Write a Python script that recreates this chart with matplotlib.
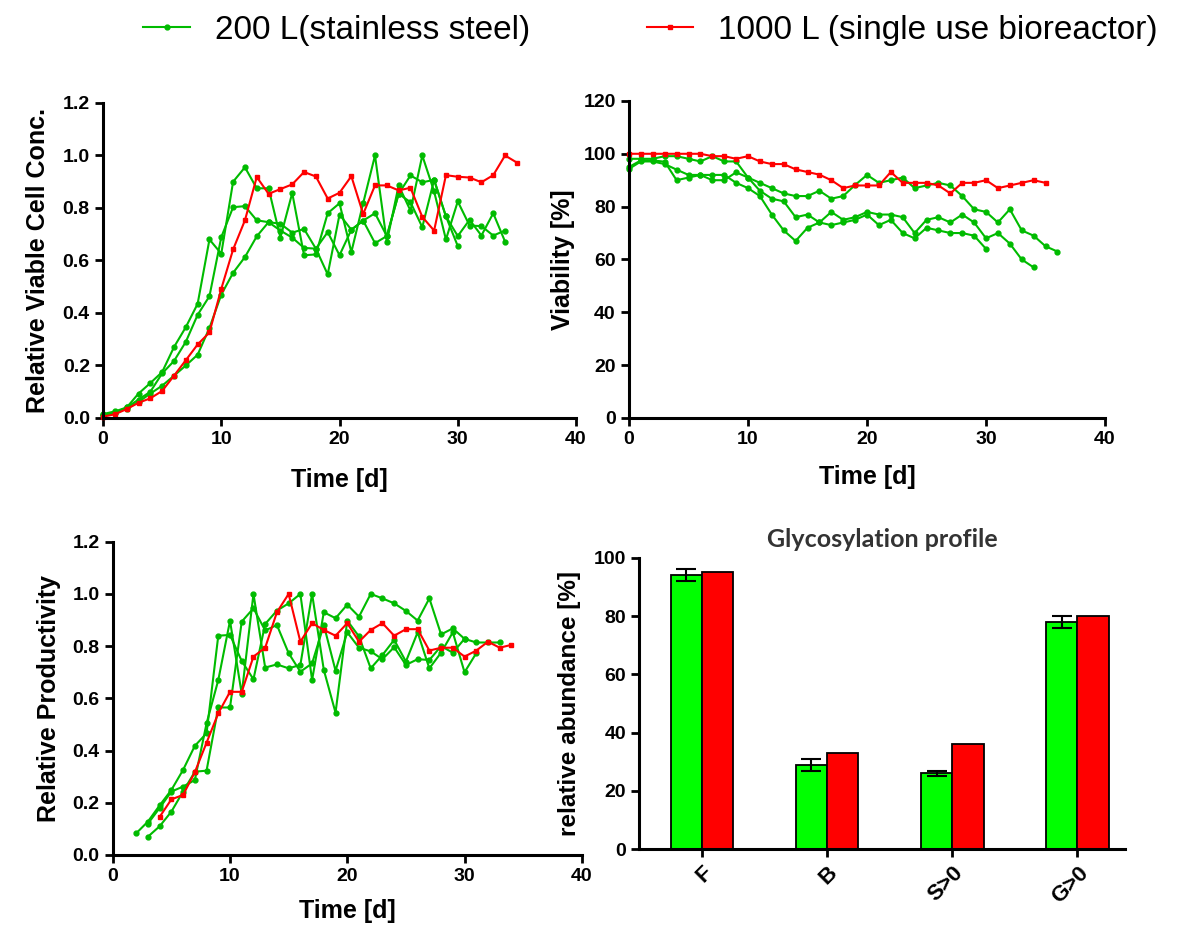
import matplotlib
matplotlib.use("Agg")
import matplotlib.pyplot as plt
import numpy as np

# relative viable cell concentration, day 0 onward
vcc_200_a = [0.01, 0.02, 0.04, 0.093, 0.133, 0.175, 0.27, 0.346, 0.435, 0.68, 0.626, 0.9, 0.955,
             0.875, 0.875, 0.687, 0.857, 0.62, 0.623, 0.78, 0.818, 0.632, 0.818, 1.0, 0.67, 0.886,
             0.79, 1.0, 0.863, 0.68, 0.825, 0.733, 0.731, 0.695, 0.714]
vcc_200_b = [0.015, 0.025, 0.04, 0.07, 0.1, 0.17, 0.217, 0.29, 0.393, 0.464, 0.689, 0.803, 0.807,
             0.753, 0.746, 0.74, 0.706, 0.72, 0.645, 0.708, 0.62, 0.717, 0.752, 0.78, 0.693, 0.854,
             0.924, 0.898, 0.907, 0.768, 0.655]
vcc_200_c = [0.01, 0.02, 0.035, 0.061, 0.093, 0.123, 0.161, 0.2, 0.241, 0.343, 0.47, 0.553, 0.613,
             0.692, 0.746, 0.714, 0.687, 0.648, 0.645, 0.547, 0.775, 0.717, 0.752, 0.666, 0.693,
             0.854, 0.822, 0.727, 0.907, 0.768, 0.693, 0.755, 0.695, 0.78, 0.672]
vcc_1000 = [0.005, 0.014, 0.034, 0.058, 0.075, 0.103, 0.161, 0.22, 0.28, 0.326, 0.492, 0.642,
            0.753, 0.918, 0.854, 0.872, 0.89, 0.937, 0.92, 0.836, 0.858, 0.921, 0.777, 0.886,
            0.886, 0.867, 0.877, 0.766, 0.714, 0.925, 0.919, 0.916, 0.898, 0.925, 1.0, 0.973]

# viability [%], day 0 onward
via_200_a = [98.1, 98.1, 98.1, 99.1, 99.1, 98.1, 97.1, 99.1, 97.1, 97.1, 91, 89, 87, 85, 84, 84,
             86, 83, 84, 88.2, 92, 89, 90, 91, 87, 88, 89, 88, 84, 79, 78, 74, 79, 71, 69, 65, 63]
via_200_b = [94.3, 97.1, 97.1, 96.1, 94, 92, 92, 92, 92, 89, 87, 84, 77, 71, 67, 72, 74, 78, 75,
             76, 78, 77, 77, 76, 70, 75, 76, 74, 77, 74, 68, 70, 66, 60, 57]
via_200_c = [95, 97.5, 97.5, 97, 90, 91, 92, 90, 90, 93, 91, 86, 83, 82, 76, 77, 74, 73, 74, 75,
             77, 73, 75, 70, 68, 72, 71, 70, 70, 69, 64]
via_1000 = [100, 100, 100, 100, 100, 100, 100, 99.1, 99.1, 98.1, 99.1, 97.1, 96.1, 96.1, 94.1,
            93.1, 92.1, 90, 87, 88, 88, 88, 93.1, 89, 89, 89, 88, 85, 89, 89, 90, 87, 88, 89, 90, 89]

# relative productivity
prod_200_a_start = 2
prod_200_a = [0.083, 0.128, 0.19, 0.249, 0.326, 0.418, 0.466, 0.84, 0.843, 0.743, 0.673, 0.885,
              0.936, 0.964, 1.0, 0.67, 0.93, 0.907, 0.959, 0.913, 1.0, 0.983, 0.964, 0.935, 0.898,
              0.983, 0.845, 0.868, 0.828, 0.814, 0.814, 0.814]
prod_200_b_start = 3
prod_200_b = [0.12, 0.18, 0.243, 0.262, 0.287, 0.504, 0.67, 0.897, 0.617, 1.0, 0.718, 0.73,
              0.715, 0.728, 1.0, 0.709, 0.545, 0.898, 0.837, 0.715, 0.766, 0.824, 0.741, 0.853,
              0.715, 0.775, 0.853, 0.7, 0.773]
prod_200_c_start = 3
prod_200_c = [0.07, 0.11, 0.166, 0.243, 0.319, 0.323, 0.565, 0.565, 0.894, 0.945, 0.86, 0.881,
              0.773, 0.702, 0.734, 0.881, 0.706, 0.853, 0.794, 0.78, 0.75, 0.796, 0.728, 0.75,
              0.747, 0.8, 0.775, 0.828]
prod_1000_start = 4
prod_1000 = [0.146, 0.213, 0.23, 0.317, 0.43, 0.543, 0.625, 0.625, 0.76, 0.794, 0.93, 1.0, 0.817,
             0.888, 0.862, 0.84, 0.888, 0.817, 0.862, 0.888, 0.84, 0.865, 0.865, 0.783, 0.794,
             0.794, 0.76, 0.783, 0.817, 0.794, 0.805]

# glycosylation profile
glyco_labels = ["F", "B", "S>0", "G>0"]
glyco_200 = [94, 29, 26, 78]
glyco_200_err = [2, 2, 1, 2]
glyco_1000 = [95, 33, 36, 80]

GREEN = "#00BB00"
RED = "#FF0000"
FONT = "Liberation Sans"
plt.rcParams["font.family"] = [FONT, "DejaVu Sans"]


def style_axes(ax):
    for side in ("top", "right"):
        ax.spines[side].set_visible(False)
    for side in ("left", "bottom"):
        ax.spines[side].set_linewidth(2.2)
    ax.tick_params(width=2, length=6, labelsize=14, direction="out")
    for lab in ax.get_xticklabels() + ax.get_yticklabels():
        lab.set_fontweight("bold")


def plot_series(ax, values, start, color, marker):
    days = np.arange(len(values)) + start
    line, = ax.plot(days, values, color=color, marker=marker, markersize=3.5, linewidth=1.5,
                    clip_on=False)
    return line


fig = plt.figure(figsize=(11.83, 9.27), dpi=100)

ax1 = fig.add_axes([0.0871, 0.5491, 0.3998, 0.3398])
g_line = None
for vals in (vcc_200_a, vcc_200_b, vcc_200_c):
    g_line = plot_series(ax1, vals, 0, GREEN, "o")
r_line = plot_series(ax1, vcc_1000, 0, RED, "s")
ax1.set_xlim(0, 40)
ax1.set_ylim(0, 1.2)
ax1.set_xticks([0, 10, 20, 30, 40])
ax1.set_yticks(np.arange(0, 1.21, 0.2))
ax1.yaxis.set_major_formatter(matplotlib.ticker.FormatStrFormatter("%.1f"))
ax1.set_xlabel("Time [d]", fontsize=18, fontweight="bold", labelpad=14)
ax1.set_ylabel("Relative Viable Cell Conc.", fontsize=18, fontweight="bold", labelpad=9)
style_axes(ax1)

ax2 = fig.add_axes([0.5317, 0.5491, 0.4024, 0.342])
for vals in (via_200_a, via_200_b, via_200_c):
    plot_series(ax2, vals, 0, GREEN, "o")
plot_series(ax2, via_1000, 0, RED, "s")
ax2.set_xlim(0, 40)
ax2.set_ylim(0, 120)
ax2.set_xticks([0, 10, 20, 30, 40])
ax2.set_yticks(np.arange(0, 121, 20))
ax2.set_xlabel("Time [d]", fontsize=18, fontweight="bold", labelpad=12)
ax2.set_ylabel("Viability [%]", fontsize=18, fontweight="bold", labelpad=6)
style_axes(ax2)

ax3 = fig.add_axes([0.0953, 0.0777, 0.3965, 0.3379])
plot_series(ax3, prod_200_a, prod_200_a_start, GREEN, "o")
plot_series(ax3, prod_200_b, prod_200_b_start, GREEN, "o")
plot_series(ax3, prod_200_c, prod_200_c_start, GREEN, "o")
plot_series(ax3, prod_1000, prod_1000_start, RED, "s")
ax3.set_xlim(0, 40)
ax3.set_ylim(0, 1.2)
ax3.set_xticks([0, 10, 20, 30, 40])
ax3.set_yticks(np.arange(0, 1.21, 0.2))
ax3.yaxis.set_major_formatter(matplotlib.ticker.FormatStrFormatter("%.1f"))
ax3.set_xlabel("Time [d]", fontsize=18, fontweight="bold", labelpad=10)
ax3.set_ylabel("Relative Productivity", fontsize=18, fontweight="bold", labelpad=8)
style_axes(ax3)

ax4 = fig.add_axes([0.5404, 0.0838, 0.4106, 0.3146])
x = np.arange(len(glyco_labels))
w = 0.25
ax4.bar(x - w / 2, glyco_200, width=w, color="#00FF00", edgecolor="black", linewidth=1.3,
        yerr=glyco_200_err, capsize=7, error_kw=dict(elinewidth=1.5, capthick=1.5))
ax4.bar(x + w / 2, glyco_1000, width=w, color=RED, edgecolor="black", linewidth=1.3)
ax4.set_xlim(-0.5, 3.38)
ax4.set_ylim(0, 100)
ax4.set_yticks(np.arange(0, 101, 20))
ax4.set_xticks(x)
ax4.set_ylabel("relative abundance [%]", fontsize=17.5, fontweight="bold", labelpad=9)
ax4.set_title("Glycosylation profile", fontsize=18, fontweight="bold", color="#333333",
              family="Lato", pad=8)
style_axes(ax4)
ax4.set_xticklabels(glyco_labels, rotation=45, ha="right", rotation_mode="anchor",
                    fontsize=16, fontweight="bold")

fig.legend([g_line, r_line], ["200 L(stainless steel)", "1000 L (single use bioreactor)"],
           loc="center", bbox_to_anchor=(0.55, 0.967), ncol=2, frameon=False, fontsize=24,
           handlelength=1.4, handletextpad=0.75, columnspacing=3.5)

fig.savefig("out.png", dpi=100)
plt.close(fig)
